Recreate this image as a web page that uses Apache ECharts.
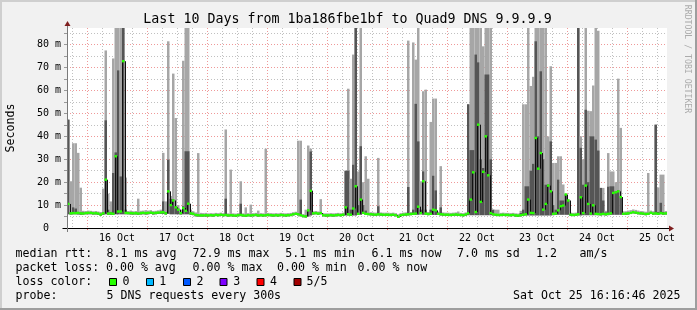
<!DOCTYPE html>
<html><head><meta charset="utf-8">
<script src="https://cdn.jsdelivr.net/npm/echarts@6/dist/echarts.min.js"></script>
<style>html,body{margin:0;padding:0;background:#f1f1f1}#c{width:697px;height:310px}</style>
</head><body><div id="c"></div><script>
// ---- data: hourly bins starting Oct 15 16:00, 240 bins (10 days) ----
const startMs = Date.UTC(2025, 9, 15, 16, 0, 0);
const binCount = 240;
const dayLabels = ['16 Oct','17 Oct','18 Oct','19 Oct','20 Oct','21 Oct','22 Oct','23 Oct','24 Oct','25 Oct'];
const yMax = 87.3;

// median rtt (ms) per bin
const median = [
 10.5,6.4,6.5,6.5,6.6,6.4,6.3,6.5,
 6.6,6.6,6.4,6.5,6.3,5.9,6.4,21.1,6.3,6.4,6.2,31.3,7.2,7.2,72.8,6.6,6.5,6.5,6.4,6.5,6.3,6.5,6.6,6.5,
 6.6,6.7,6.5,6.6,6.7,6.8,6.9,6.4,16.0,10.0,12.0,9.0,8.0,6.5,8.7,7.5,10.6,6.4,6.2,5.7,5.6,5.5,5.5,5.6,
 5.5,5.6,5.5,5.7,5.6,5.8,5.6,5.7,5.5,5.6,5.5,5.4,5.6,5.7,5.5,5.4,5.6,5.5,5.6,5.7,5.5,5.6,5.5,5.6,
 5.7,5.6,5.5,5.6,5.5,5.7,5.6,5.5,5.6,5.7,6.0,6.2,6.0,5.6,5.2,5.1,7.7,16.2,6.4,6.5,6.3,6.5,5.6,5.5,
 5.5,5.6,5.5,5.6,5.7,5.6,5.8,9.0,6.0,5.8,8.5,18.2,6.2,12.4,6.6,6.2,6.1,6.0,5.9,5.8,6.0,5.9,5.8,5.8,
 5.8,5.7,5.8,5.6,4.9,5.6,5.8,5.9,6.0,6.1,6.2,6.3,9.3,6.5,20.4,6.3,6.1,6.2,8.0,7.7,6.2,6.0,5.9,5.8,
 5.8,5.7,5.8,5.9,5.8,5.7,5.6,5.9,6.4,12.4,24.3,7.0,45.1,11.4,24.5,40.0,23.0,6.5,6.0,5.8,5.7,5.7,5.8,5.7,
 5.7,5.6,5.7,5.5,5.4,5.6,5.8,6.0,12.4,6.6,6.5,39.3,25.9,32.7,8.0,10.5,18.5,16.0,6.2,6.3,7.7,9.5,9.8,14.6,
 12.0,5.8,5.7,5.8,6.0,13.4,6.5,18.5,10.5,6.3,9.9,6.2,6.1,6.0,6.2,6.0,6.2,6.4,15.3,15.6,16.0,13.5,6.2,6.3,
 6.4,6.6,6.9,6.7,6.5,6.4,6.3,6.1,6.2,6.6,6.3,6.4,6.2,6.5,6.3,6.4
];
// smoke: lowest ping
const smokeLo = [
 6.0,5.9,6.0,6.0,5.9,5.8,5.9,6.0,
 6.0,6.0,5.9,5.9,5.8,5.4,5.8,6.0,5.8,5.8,5.8,6.0,6.0,6.0,6.0,6.0,6.0,5.9,5.9,5.9,5.8,5.9,6.0,5.9,
 6.0,6.1,5.9,6.0,6.1,6.2,6.2,5.9,6.2,6.0,6.0,6.0,6.0,5.9,6.0,6.0,6.0,5.8,5.6,5.1,5.0,5.0,5.0,5.0,
 5.0,5.1,5.0,5.2,5.1,5.3,5.1,5.2,5.0,5.1,5.0,4.9,5.1,5.2,5.0,4.9,5.1,5.0,5.1,5.2,5.0,5.1,5.0,5.1,
 5.2,5.1,5.0,5.1,5.0,5.2,5.1,5.0,5.1,5.2,5.5,5.7,5.5,5.1,4.7,4.6,5.0,5.5,5.9,6.0,5.8,6.0,5.1,5.0,
 5.0,5.1,5.0,5.1,5.2,5.1,5.3,5.5,5.5,5.3,5.5,5.5,5.7,5.8,6.1,5.7,5.6,5.5,5.4,5.3,5.5,5.4,5.3,5.3,
 5.3,5.2,5.3,5.1,4.4,5.1,5.3,5.4,5.5,5.6,5.7,5.8,5.8,6.0,5.8,5.8,5.6,5.7,5.7,5.7,5.7,5.5,5.4,5.3,
 5.3,5.2,5.3,5.4,5.3,5.2,5.1,5.4,5.6,5.6,5.6,5.6,5.6,5.6,5.6,5.6,5.6,5.6,5.5,5.3,5.2,5.2,5.3,5.2,
 5.2,5.1,5.2,5.0,4.9,5.1,5.3,5.5,5.5,5.5,5.5,5.5,5.5,5.5,5.5,5.5,5.5,5.5,5.6,5.7,5.8,5.8,5.8,5.8,
 5.8,5.3,5.2,5.3,5.5,5.5,5.6,5.6,5.6,5.6,5.6,5.6,5.6,5.5,5.6,5.5,5.6,5.8,5.8,5.8,5.8,5.8,5.7,5.8,
 5.9,6.1,6.4,6.2,6.0,5.9,5.8,5.6,5.7,6.1,5.8,5.9,5.7,6.0,5.8,5.9
];
// smoke: top of the dark (inner) band
const smokeMid = [
 47.3,6.8,9.0,8.5,7.0,6.8,6.8,6.8,
 6.9,6.9,6.7,6.8,6.6,6.2,6.8,47.0,8.0,7.0,24.0,33.0,68.8,22.5,88,8.0,6.8,6.9,6.7,6.8,6.7,6.8,6.9,6.8,
 6.9,7.0,6.8,6.9,7.0,7.1,11.6,7.0,29.8,12.7,12.5,9.5,8.5,6.8,9.5,33.5,33.5,6.8,6.6,6.0,6.0,5.8,5.8,5.9,
 5.8,5.9,5.8,6.0,5.9,6.1,5.9,12.8,5.8,5.9,5.8,5.7,5.9,10.6,5.8,5.7,5.9,5.8,5.9,6.0,5.8,5.9,5.8,5.9,
 6.0,5.9,5.8,5.9,5.8,6.0,5.9,5.8,5.9,6.0,6.3,6.5,6.5,12.4,5.5,5.4,8.0,33.4,6.7,6.8,6.6,6.8,5.9,5.8,
 5.8,5.9,5.8,5.9,6.0,5.9,6.1,25.0,25.0,8.0,27.6,88,10.0,35.7,10.0,7.6,6.4,6.3,6.2,6.1,9.5,6.2,6.1,6.1,
 6.1,6.0,6.1,5.9,5.2,5.9,6.1,6.2,17.9,6.4,8.0,54.2,37.8,8.0,24.7,8.0,6.4,8.0,22.8,16.4,6.5,9.0,6.2,6.1,
 6.1,6.0,6.1,6.2,6.1,6.0,5.9,6.2,54.0,34.0,34.0,75.7,72.3,30.0,26.2,67.0,67.0,30.0,8.0,6.1,6.0,6.0,6.1,6.0,
 6.0,5.9,6.0,5.8,5.7,6.5,8.0,18.2,18.2,25.0,28.0,81.5,40.0,68.4,30.0,18.9,19.0,37.8,10.0,8.0,21.1,12.0,12.0,14.6,
 12.0,6.1,6.0,6.1,88,35.0,18.9,51.6,20.0,40.0,40.0,38.6,33.8,17.5,12.0,6.8,18.0,18.2,18.2,16.0,16.5,13.8,6.5,6.6,
 6.7,6.9,7.2,7.0,6.8,6.7,6.6,6.4,6.5,6.9,6.6,45.1,7.0,11.0,7.0,6.7
];
// smoke: highest ping
const smokeHi = [
 47.3,20.4,37.0,37.0,32.8,17.6,7.5,7.4,
 7.6,7.5,7.3,7.4,7.2,7.0,17.2,77.5,15.0,11.6,74.0,88,88,88,88,22.0,7.4,7.6,7.3,7.4,12.8,7.5,7.6,7.8,
 7.6,7.8,7.4,7.5,7.7,8.0,32.8,11.6,81.5,14.0,67.4,48.0,10.0,8.0,73.0,88,88,8.0,7.3,6.8,32.7,6.6,6.5,6.6,
 6.4,6.5,6.4,6.6,6.5,6.7,6.5,43.0,6.4,25.5,6.4,6.3,6.5,20.4,6.4,9.0,6.5,10.2,6.5,6.6,7.6,6.5,6.4,34.6,
 6.6,6.5,6.4,6.5,6.4,6.6,6.5,6.4,6.5,6.6,6.9,7.1,38.1,38.1,6.1,8.0,36.0,34.6,7.3,7.4,7.2,12.6,6.5,6.4,
 6.4,6.5,6.4,6.5,6.6,6.5,6.7,25.0,60.8,21.5,75.7,88,24.7,88,20.0,31.3,21.5,6.9,6.8,6.7,30.6,6.8,6.7,6.7,
 6.7,6.6,6.7,6.5,6.0,6.5,6.7,6.8,81.8,7.0,81.0,73.5,88,20.4,59.7,60.4,7.0,46.3,56.5,56.5,7.1,27.0,6.8,6.7,
 6.7,6.6,6.7,6.8,7.2,6.6,6.5,6.8,54.0,88,88,88,88,88,79.3,88,88,88,8.0,8.0,8.0,6.6,6.7,6.6,
 6.6,6.5,6.6,6.4,6.3,7.5,54.0,54.0,88,62.0,66.0,88,88,88,88,88,40.0,70.6,28.4,28.4,31.3,31.3,19.0,15.0,
 12.5,6.7,6.6,6.7,88,40.0,30.0,88,51.2,51.0,62.2,88,86.1,17.5,17.5,7.5,32.7,24.7,24.7,20.0,65.2,43.7,7.3,7.3,
 7.6,7.8,8.1,7.9,7.6,7.4,7.3,7.1,24.0,7.6,7.3,45.1,17.7,23.3,23.3,7.4
];
const statsRtt = ['8.1 ms avg','72.9 ms max','5.1 ms min','6.1 ms now','7.0 ms sd','1.2','am/s'];
const statsLoss = ['0.00 % avg','0.00 % max','0.00 % min','0.00 % now'];
const lossLabels = ['0','1','2','3','4','5/5'];
const lossColors = ['#26ff00','#00b8ff','#0059ff','#7e00ff','#ff0000','#a10000'];

// ---- build ----
const cats = [];
for (let k = 0; k <= binCount; k++) {
  const d = new Date(startMs + k * 3600000);
  cats.push(d.toISOString().slice(0, 16));
}
const hourOf = k => new Date(startMs + k * 3600000).getUTCHours();
const mono = '"DejaVu Sans Mono", monospace';
const LIGHT = '#a6a6a6', DARK = '#555555';
const RED = 'rgba(225,70,70,0.55)', GRAY = 'rgba(130,130,130,0.5)';

const smokeData = median.map((m, i) => [i, smokeLo[i], smokeMid[i], smokeHi[i]]);
const medData = median.map((m, i) => [i, m, i > 0 ? median[i - 1] : m]);

const chart = echarts.init(document.getElementById('c'), null, {renderer: 'canvas', width: 697, height: 310});

function txt(text, x, y, opt) {
  return Object.assign({type: 'text', x: x, y: y, silent: true,
    style: Object.assign({text: text, fill: '#000', font: '11.6px ' + mono, align: 'left', verticalAlign: 'middle'}, (opt || {}).style || {})},
    opt && opt.rotation !== undefined ? {rotation: opt.rotation} : {});
}
const graphics = [];
// frame shading
graphics.push({type: 'rect', shape: {x: 0, y: 0, width: 697, height: 2}, style: {fill: '#cfcfcf'}, silent: true});
graphics.push({type: 'rect', shape: {x: 0, y: 0, width: 2, height: 310}, style: {fill: '#cfcfcf'}, silent: true});
graphics.push({type: 'rect', shape: {x: 0, y: 308, width: 697, height: 2}, style: {fill: '#9e9e9e'}, silent: true});
graphics.push({type: 'rect', shape: {x: 695, y: 0, width: 2, height: 310}, style: {fill: '#9e9e9e'}, silent: true});
// title & side texts
graphics.push(txt('Last 10 Days from 1ba186fbe1bf to Quad9 DNS 9.9.9.9', 347.5, 19.5, {style: {font: '13.3px ' + mono, align: 'center'}}));
graphics.push(txt('Seconds', 11, 128, {rotation: Math.PI / 2, style: {align: 'center'}}));
graphics.push(txt('RRDTOOL / TOBI OETIKER', 687.5, 59, {rotation: -Math.PI / 2, style: {font: '8.2px ' + mono, align: 'center', fill: '#ababab'}}));
// axis extensions and arrows
graphics.push({type: 'line', shape: {x1: 62.5, y1: 228.5, x2: 670, y2: 228.5}, style: {stroke: '#000', lineWidth: 1}, z: 10, silent: true});
graphics.push({type: 'polygon', shape: {points: [[669, 225.5], [674, 228.5], [669, 231.5]]}, style: {fill: '#7f1f1f'}, z: 10, silent: true});
graphics.push({type: 'line', shape: {x1: 67.5, y1: 232, x2: 67.5, y2: 25}, style: {stroke: '#7a7a7a', lineWidth: 1}, z: 10, silent: true});
graphics.push({type: 'polygon', shape: {points: [[64.5, 26], [67.5, 21], [70.5, 26]]}, style: {fill: '#7f1f1f'}, z: 10, silent: true});
// legend
const ly = [254, 267.5, 282, 295.5];
graphics.push(txt('median rtt:', 15.5, ly[0]));
[106.6, 192.6, 285.3, 371.6, 457, 536, 579.5].forEach((x, i) => graphics.push(txt(statsRtt[i], x, ly[0])));
graphics.push(txt('packet loss:', 15.5, ly[1]));
[106, 192.6, 277, 357.5].forEach((x, i) => graphics.push(txt(statsLoss[i], x, ly[1])));
graphics.push(txt('loss color:', 15.5, ly[2]));
[109, 146, 183, 219.5, 256.5, 293.5].forEach((x, i) => {
  graphics.push({type: 'rect', shape: {x: x + 0.5, y: 278.5, width: 7, height: 7}, style: {fill: lossColors[i], stroke: '#000', lineWidth: 1}, silent: true});
});
[122.6, 159.3, 196.6, 233.3, 270, 306.6].forEach((x, i) => graphics.push(txt(lossLabels[i], x, ly[2])));
graphics.push(txt('probe:', 15.5, ly[3]));
graphics.push(txt('5 DNS requests every 300s', 106.6, ly[3]));
graphics.push(txt('Sat Oct 25 16:16:46 2025', 680.5, ly[3], {style: {align: 'right'}}));

const option = {
  animation: false,
  backgroundColor: '#f1f1f1',
  grid: {left: 67, top: 28, width: 600, height: 200, show: true, backgroundColor: '#ffffff', borderWidth: 0},
  xAxis: [
    {type: 'category', data: cats, boundaryGap: false,
     axisLine: {show: true, lineStyle: {color: '#000'}},
     axisTick: {show: true, interval: k => hourOf(k) === 0, length: 2, lineStyle: {color: 'rgba(225,70,70,0.8)'}},
     axisLabel: {interval: k => hourOf(k) === 12, color: '#000', fontFamily: mono, fontSize: 10, margin: 5,
       formatter: v => dayLabels[parseInt(v.slice(8, 10), 10) - 16]},
     splitLine: {show: true, interval: k => hourOf(k) % 6 === 0 && hourOf(k) !== 0, lineStyle: {color: GRAY, type: [1, 2], width: 1}}},
    {type: 'category', data: cats, boundaryGap: false, position: 'bottom',
     axisLine: {show: false}, axisTick: {show: false}, axisLabel: {show: false},
     splitLine: {show: true, interval: k => hourOf(k) === 0, lineStyle: {color: RED, type: [1, 2], width: 1}}}
  ],
  yAxis: {type: 'value', min: 0, max: yMax, interval: 5,
    axisLine: {show: false},
    axisTick: {show: true, length: 3, lineStyle: {color: '#999'}},
    axisLabel: {color: '#000', fontFamily: mono, fontSize: 10, margin: 6, showMaxLabel: false,
      formatter: v => v === 0 ? '0  ' : (v % 10 === 0 && v < 85 ? v + ' m' : '')},
    splitLine: {show: true, showMaxLine: false, lineStyle: {color: [RED, GRAY], type: [1, 2], width: 1}}},
  series: [
    {type: 'custom', name: 'smoke', xAxisIndex: 0, yAxisIndex: 0, data: smokeData, clip: true,
     encode: {x: 0, y: [1, 2, 3]},
     renderItem: function (params, api) {
       const i = api.value(0);
       const lo = api.value(1), mid = Math.min(api.value(2), yMax), hi = Math.min(api.value(3), yMax);
       const a = api.coord([i, lo]);
       const b = api.coord([i + 1, hi]);
       const m = api.coord([i + 1, mid]);
       const w = b[0] - a[0];
       return {type: 'group', children: [
         {type: 'rect', shape: {x: a[0], y: b[1], width: w, height: a[1] - b[1]}, style: {fill: LIGHT}},
         {type: 'rect', shape: {x: a[0], y: m[1], width: w, height: a[1] - m[1]}, style: {fill: DARK}}
       ]};
     }},
    {type: 'custom', name: 'median', xAxisIndex: 0, yAxisIndex: 0, data: medData, clip: true,
     encode: {x: 0, y: [1, 2]},
     renderItem: function (params, api) {
       const i = api.value(0);
       const m = api.value(1), pm = api.value(2);
       const a = api.coord([i, m]);
       const b = api.coord([i + 1, m]);
       const p = api.coord([i, pm]);
       const children = [];
       if (i > 0 && Math.abs(a[1] - p[1]) > 1.5) {
         const xx = Math.round(a[0]) + 0.5;
         children.push({type: 'line', shape: {x1: xx, y1: p[1], x2: xx, y2: a[1]}, style: {stroke: '#111', lineWidth: 1}});
       }
       children.push({type: 'rect', shape: {x: a[0], y: a[1] - 1.2, width: b[0] - a[0], height: 2.4}, style: {fill: lossColors[0]}});
       return {type: 'group', children: children};
     }}
  ],
  graphic: graphics
};
chart.setOption(option);
</script></body></html>
